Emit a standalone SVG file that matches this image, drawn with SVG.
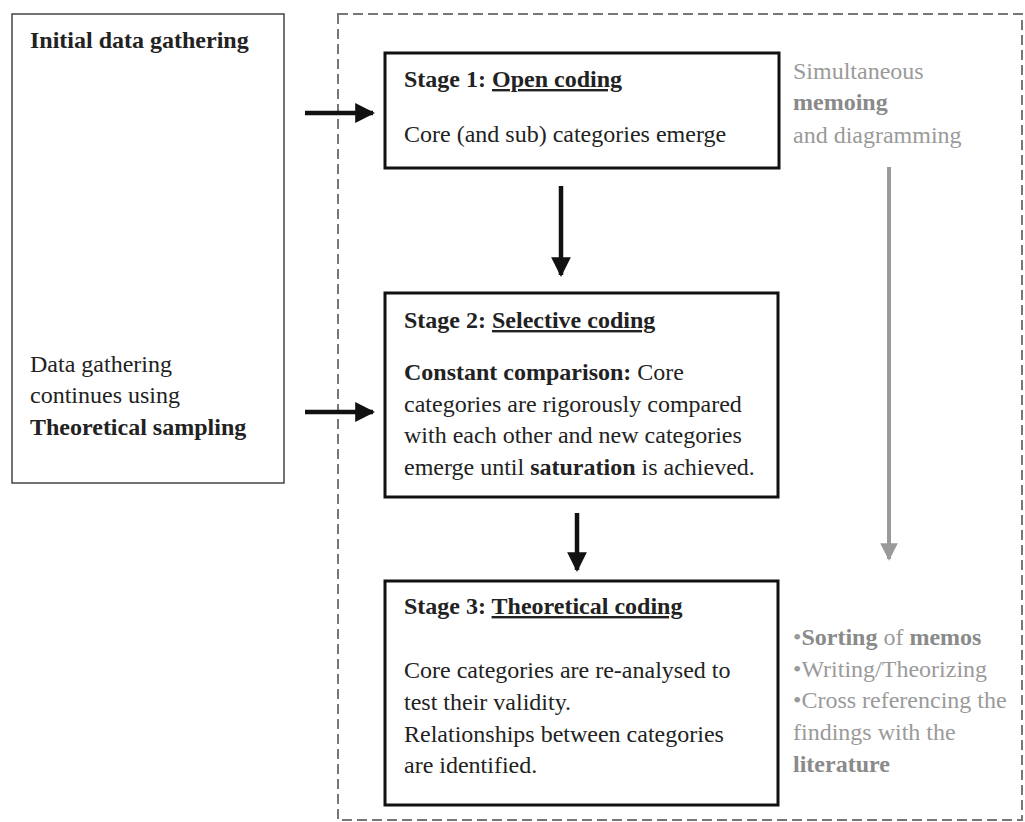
<svg xmlns="http://www.w3.org/2000/svg" width="1025" height="822" viewBox="0 0 1025 822">
  <style>
    text { font-family: "Liberation Serif", "Times New Roman", serif; font-size: 24px; fill: #222; }
    .b { font-weight: bold; }
    .u { text-decoration: underline; }
    .g { fill: #9a9a9a; }
    .gb { fill: #8a8a8a; font-weight: bold; }
    .stage { fill: #fff; stroke: #111; stroke-width: 3; }
  </style>
  <defs>
    <marker id="head" viewBox="0 0 10 10" refX="9" refY="5" markerWidth="4.4" markerHeight="4.4" markerUnits="strokeWidth" orient="auto">
      <path d="M0,0 L10,5 L0,10 Z" fill="#111"/>
    </marker>
    <marker id="headGray" viewBox="0 0 10 10" refX="9" refY="5" markerWidth="4.4" markerHeight="4.4" markerUnits="strokeWidth" orient="auto">
      <path d="M0,0 L10,5 L0,10 Z" fill="#9a9a9a"/>
    </marker>
  </defs>

  <rect width="1025" height="822" fill="#fff"/>

  <!-- analysis region -->
  <rect id="analysis-region" x="338" y="14" width="684" height="806" fill="none" stroke="#777" stroke-width="2" stroke-dasharray="10 5"/>

  <!-- data gathering -->
  <g id="data-gathering">
    <rect x="12" y="14" width="272" height="469" fill="none" stroke="#444" stroke-width="1.5"/>
    <text x="30" y="48" class="b">Initial data gathering</text>
    <text x="30" y="372">Data gathering</text>
    <text x="30" y="403">continues using</text>
    <text x="30" y="435" class="b">Theoretical sampling</text>
  </g>

  <g id="stage1">
    <rect class="stage" x="385" y="53" width="394" height="115"/>
    <text x="404" y="87" class="b">Stage 1: <tspan class="u">Open coding</tspan></text>
    <text x="404" y="142">Core (and sub) categories emerge</text>
  </g>

  <g id="stage2">
    <rect class="stage" x="385" y="293" width="393" height="204"/>
    <text x="404" y="328" class="b">Stage 2: <tspan class="u">Selective coding</tspan></text>
    <text x="404" y="380"><tspan class="b">Constant comparison:</tspan> Core</text>
    <text x="404" y="412">categories are rigorously compared</text>
    <text x="404" y="443">with each other and new categories</text>
    <text x="404" y="475">emerge until <tspan class="b">saturation</tspan> is achieved.</text>
  </g>

  <g id="stage3">
    <rect class="stage" x="385" y="581" width="393" height="224"/>
    <text x="404" y="614" class="b">Stage 3: <tspan class="u">Theoretical coding</tspan></text>
    <text x="404" y="678">Core categories are re-analysed to</text>
    <text x="404" y="710">test their validity.</text>
    <text x="404" y="742">Relationships between categories</text>
    <text x="404" y="773">are identified.</text>
  </g>

  <g id="memoing">
    <text x="793" y="79" class="g">Simultaneous</text>
    <text x="793" y="110" class="gb">memoing</text>
    <text x="793" y="143" class="g">and diagramming</text>
  </g>

  <g id="sorting">
    <text x="793" y="645" class="g">•<tspan class="gb">Sorting</tspan> of <tspan class="gb">memos</tspan></text>
    <text x="793" y="677" class="g">•Writing/Theorizing</text>
    <text x="793" y="708" class="g">•Cross referencing the</text>
    <text x="793" y="740" class="g">findings with the</text>
    <text x="793" y="772" class="gb">literature</text>
  </g>

  <g id="connectors" fill="none">
    <line x1="305" y1="113" x2="373" y2="113" stroke="#111" stroke-width="4.5" marker-end="url(#head)"/>
    <line x1="305" y1="412" x2="373" y2="412" stroke="#111" stroke-width="4.5" marker-end="url(#head)"/>
    <line x1="561" y1="186" x2="561" y2="275" stroke="#111" stroke-width="4.5" marker-end="url(#head)"/>
    <line x1="577" y1="513" x2="577" y2="570" stroke="#111" stroke-width="4.5" marker-end="url(#head)"/>
    <line x1="889" y1="167" x2="889" y2="559" stroke="#9a9a9a" stroke-width="4" marker-end="url(#headGray)"/>
  </g>
</svg>
